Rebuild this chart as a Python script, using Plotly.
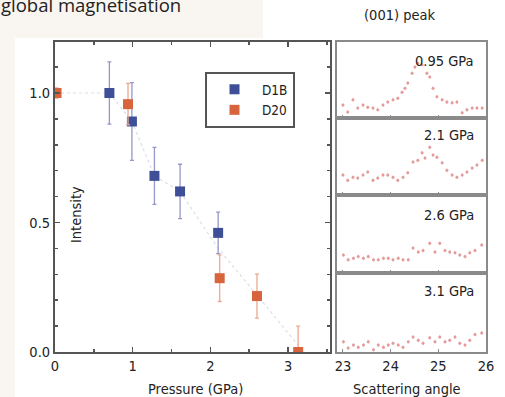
import plotly.graph_objects as go

# ---------------- data ----------------
d1b_pressure = [0.70, 0.99, 1.28, 1.61, 2.10]
d1b_intensity = [1.00, 0.89, 0.68, 0.62, 0.46]
d1b_err = [0.12, 0.15, 0.11, 0.105, 0.08]

d20_pressure = [0.02, 0.94, 2.12, 2.60, 3.13]
d20_intensity = [1.00, 0.957, 0.285, 0.216, 0.0]
d20_err = [0.02, 0.08, 0.09, 0.085, 0.10]

guide_pressure = [0.0, 0.70, 0.99, 1.28, 1.61, 2.10, 2.60, 3.20]
guide_intensity = [1.0, 1.0, 0.89, 0.68, 0.62, 0.40, 0.22, 0.0]

pressure_ticks = [0, 1, 2, 3]
intensity_ticks = [0.0, 0.5, 1.0]

angle_p1 = [23.00, 23.10, 23.21, 23.31, 23.42, 23.52, 23.63, 23.73, 23.84, 23.94,
            24.05, 24.15, 24.24, 24.30, 24.36, 24.45, 24.51, 24.57, 24.66, 24.76,
            24.82, 24.89, 24.97, 25.08, 25.18, 25.29, 25.39, 25.50, 25.60, 25.71,
            25.81, 25.92]
counts_p1 = [0.17, 0.08, 0.24, 0.13, 0.17, 0.14, 0.13, 0.11, 0.17, 0.21,
             0.24, 0.26, 0.34, 0.39, 0.46, 0.59, 0.67, 0.72, 0.70, 0.59,
             0.54, 0.39, 0.28, 0.24, 0.21, 0.20, 0.21, 0.07, 0.11, 0.13,
             0.13, 0.13]

angle_p2 = [23.00, 23.10, 23.21, 23.31, 23.42, 23.52, 23.63, 23.73, 23.84, 23.94,
            24.05, 24.15, 24.26, 24.36, 24.47, 24.57, 24.66, 24.72, 24.82, 24.89,
            24.97, 25.08, 25.18, 25.29, 25.39, 25.50, 25.60, 25.71, 25.81, 25.92]
counts_p2 = [0.26, 0.19, 0.23, 0.22, 0.26, 0.30, 0.19, 0.22, 0.26, 0.26,
             0.23, 0.19, 0.23, 0.29, 0.43, 0.45, 0.55, 0.48, 0.62, 0.52,
             0.49, 0.42, 0.32, 0.26, 0.23, 0.26, 0.30, 0.35, 0.39, 0.45]

angle_p34 = [23.01, 23.11, 23.22, 23.32, 23.43, 23.53, 23.64, 23.74, 23.85, 23.95,
             24.05, 24.16, 24.26, 24.37, 24.47, 24.58, 24.68, 24.82, 24.93, 25.03,
             25.14, 25.24, 25.35, 25.45, 25.56, 25.66, 25.77, 25.91]
counts_p3 = [0.23, 0.17, 0.19, 0.21, 0.19, 0.21, 0.17, 0.17, 0.19, 0.19,
             0.17, 0.19, 0.17, 0.17, 0.32, 0.27, 0.29, 0.38, 0.27, 0.38,
             0.29, 0.27, 0.26, 0.23, 0.21, 0.26, 0.29, 0.36]
counts_p4 = [0.13, 0.05, 0.09, 0.06, 0.09, 0.13, 0.03, 0.09, 0.06, 0.09,
             0.11, 0.09, 0.06, 0.13, 0.19, 0.15, 0.11, 0.18, 0.13, 0.19,
             0.13, 0.15, 0.19, 0.11, 0.09, 0.15, 0.22, 0.24]

panel_labels = ["0.95 GPa", "2.1 GPa", "2.6 GPa", "3.1 GPa"]
angle_ticks = [23, 24, 25, 26]

# ---------------- figure ----------------
W, H = 505, 397
FONT = "DejaVu Sans Condensed, Liberation Sans Narrow, sans-serif"
FS = 14.5
BLUE = "#3f4f97"
ORANGE = "#d8643e"
PINK = "#e49a9a"

def px(x):
    return x / W

def py(y):
    return 1 - y / H

fig = go.Figure()

# guide line
fig.add_trace(go.Scatter(x=guide_pressure, y=guide_intensity, mode="lines",
                         line=dict(color="#dcdee8", width=1.2, dash="dot"),
                         showlegend=False, hoverinfo="skip"))

fig.add_trace(go.Scatter(
    x=d1b_pressure, y=d1b_intensity, mode="markers", name="D1B",
    marker=dict(symbol="square", size=10, color=BLUE),
    error_y=dict(type="data", array=d1b_err, color="#9398c8", thickness=1.3, width=2)))
fig.add_trace(go.Scatter(
    x=d20_pressure, y=d20_intensity, mode="markers", name="D20",
    marker=dict(symbol="square", size=10, color=ORANGE),
    error_y=dict(type="data", array=d20_err, color="#eaa98f", thickness=1.3, width=2)))

panel_data = [(angle_p1, counts_p1), (angle_p2, counts_p2),
              (angle_p34, counts_p3), (angle_p34, counts_p4)]
for i, (ax, cy) in enumerate(panel_data):
    n = i + 2
    fig.add_trace(go.Scatter(
        x=ax, y=cy, mode="markers", xaxis=f"x{n}", yaxis=f"y{n}",
        marker=dict(symbol="circle", size=3, color=PINK),
        error_y=dict(type="constant", value=0.025, color="#f0c4c4", thickness=0.8, width=0),
        showlegend=False, hoverinfo="skip"))

main_line = dict(showline=True, linecolor="#555555", linewidth=2, mirror="ticks",
                 ticks="inside", tickcolor="#555555", ticklen=5, tickwidth=1.5,
                 showgrid=False, zeroline=False, automargin=False,
                 tickfont=dict(family=FONT, size=FS, color="#222222"))

layout = dict(
    width=W, height=H,
    margin=dict(l=0, r=0, t=0, b=0, pad=0),
    paper_bgcolor="white", plot_bgcolor="white",
    showlegend=True,
    legend=dict(x=px(205), y=py(72), xanchor="left", yanchor="top",
                bgcolor="white", bordercolor="#555555", borderwidth=2,
                font=dict(family=FONT, size=13.5, color="#222222"),
                itemwidth=45, tracegroupgap=0),
    xaxis=dict(domain=[px(55), px(330)], range=[0, 3.54], anchor="y",
               tickvals=pressure_ticks,
               minor=dict(dtick=0.5, ticks="inside", ticklen=3, tickcolor="#555555"),
               **main_line),
    yaxis=dict(domain=[py(352), py(42)], range=[0, 1.197], anchor="x",
               tickvals=intensity_ticks, tickformat=".1f",
               minor=dict(dtick=0.1, ticks="inside", ticklen=3, tickcolor="#555555"),
               **main_line),
)

panel_edges = [(42, 118), (118, 195), (195, 273), (273, 352)]
for i, (top, bot) in enumerate(panel_edges):
    n = i + 2
    layout[f"xaxis{n}"] = dict(
        domain=[px(337), px(486)], range=[22.875, 26.0], anchor=f"y{n}",
        showline=True, linecolor="#8a8a8a", linewidth=2, mirror=True,
        ticks="inside", ticklen=3, tickcolor="#8a8a8a", tickvals=angle_ticks,
        showticklabels=(i == 3), showgrid=False, zeroline=False, automargin=False,
        tickfont=dict(family=FONT, size=FS, color="#222222"))
    layout[f"yaxis{n}"] = dict(
        domain=[py(bot), py(top)], range=[0, 1], anchor=f"x{n}",
        showline=True, linecolor="#8a8a8a", linewidth=2, mirror=True, automargin=False,
        ticks="", showticklabels=False, showgrid=False, zeroline=False)

fig.update_layout(**layout)

# cream background
fig.add_shape(type="rect", xref="paper", yref="paper", x0=0, x1=px(263), y0=py(38), y1=1,
              fillcolor="#f9f5f0", line=dict(width=0), layer="below")
fig.add_shape(type="rect", xref="paper", yref="paper", x0=0, x1=px(15), y0=0, y1=1,
              fillcolor="#f9f5f0", line=dict(width=0), layer="below")

ann = []
ann.append(dict(text="global magnetisation", x=px(-1), y=py(4.5), xref="paper", yref="paper",
                xanchor="left", yanchor="middle", showarrow=False,
                font=dict(family="Open Sans, Noto Sans, sans-serif", size=18.5, color="#222222")))
ann.append(dict(text="(001) peak", x=px(400), y=py(15), xref="paper", yref="paper",
                xanchor="center", yanchor="middle", showarrow=False,
                font=dict(family=FONT, size=FS, color="#222222")))
ann.append(dict(text="Pressure (GPa)", x=px(195), y=py(389), xref="paper", yref="paper",
                xanchor="center", yanchor="middle", showarrow=False,
                font=dict(family=FONT, size=FS, color="#222222")))
ann.append(dict(text="Scattering angle", x=px(407), y=py(389), xref="paper", yref="paper",
                xanchor="center", yanchor="middle", showarrow=False,
                font=dict(family=FONT, size=FS, color="#222222")))
ann.append(dict(text="Intensity", x=px(76), y=py(215), xref="paper", yref="paper",
                xanchor="center", yanchor="middle", showarrow=False, textangle=-90,
                font=dict(family=FONT, size=FS, color="#222222")))
label_y = [61, 135, 215, 291]
for lab, ly in zip(panel_labels, label_y):
    ann.append(dict(text=lab, x=px(476), y=py(ly), xref="paper", yref="paper",
                    xanchor="right", yanchor="middle", showarrow=False,
                    font=dict(family=FONT, size=FS, color="#222222")))
fig.update_layout(annotations=ann)

fig.write_html("out.html", config={"displayModeBar": False, "staticPlot": True},
               post_script="document.body.style.margin='0px';document.body.style.overflow='hidden';")
